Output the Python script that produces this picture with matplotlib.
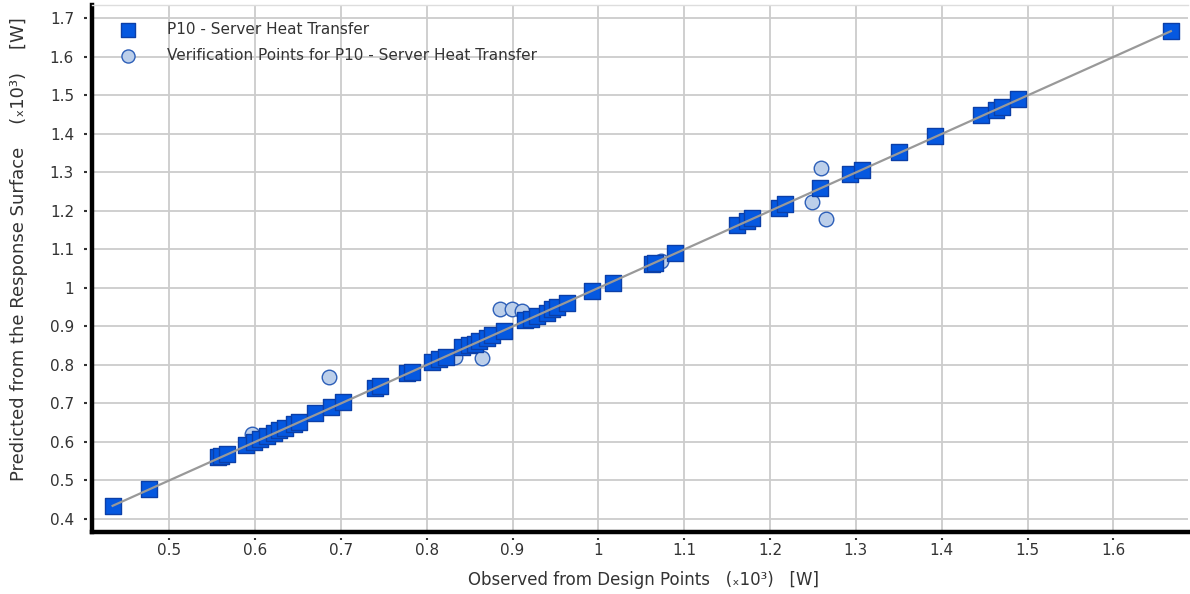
import numpy as np
import matplotlib
matplotlib.use("Agg")
import matplotlib.pyplot as plt
from matplotlib.path import Path
from matplotlib.ticker import FuncFormatter

# Design points (observed, predicted), x10^3 W
design_obs = [0.434, 0.476, 0.557, 0.560, 0.567, 0.590, 0.599, 0.606, 0.614, 0.622,
              0.628, 0.635, 0.645, 0.651, 0.670, 0.689, 0.703, 0.740, 0.745, 0.777,
              0.783, 0.806, 0.814, 0.822, 0.841, 0.849, 0.856, 0.861, 0.870, 0.876,
              0.890, 0.915, 0.921, 0.929, 0.940, 0.946, 0.952, 0.963, 0.993, 1.017,
              1.062, 1.066, 1.089, 1.162, 1.173, 1.179, 1.211, 1.218, 1.258, 1.293,
              1.307, 1.350, 1.392, 1.446, 1.463, 1.470, 1.489, 1.667]
design_pred = [0.434, 0.479, 0.561, 0.563, 0.569, 0.593, 0.600, 0.607, 0.615, 0.622,
               0.630, 0.637, 0.646, 0.652, 0.674, 0.691, 0.704, 0.741, 0.744, 0.778,
               0.782, 0.808, 0.816, 0.820, 0.846, 0.851, 0.855, 0.862, 0.870, 0.877,
               0.887, 0.918, 0.920, 0.927, 0.936, 0.945, 0.950, 0.960, 0.993, 1.014,
               1.062, 1.065, 1.092, 1.164, 1.175, 1.181, 1.207, 1.217, 1.259, 1.295,
               1.306, 1.352, 1.394, 1.448, 1.462, 1.471, 1.490, 1.668]

# Verification points
verif_obs = [0.597, 0.686, 0.833, 0.864, 0.885, 0.899, 0.911, 1.073, 1.249, 1.259, 1.265]
verif_pred = [0.620, 0.768, 0.820, 0.817, 0.944, 0.944, 0.940, 1.071, 1.222, 1.312, 1.178]

xticks = [0.5, 0.6, 0.7, 0.8, 0.9, 1.0, 1.1, 1.2, 1.3, 1.4, 1.5, 1.6]
yticks = [0.4, 0.5, 0.6, 0.7, 0.8, 0.9, 1.0, 1.1, 1.2, 1.3, 1.4, 1.5, 1.6, 1.7]

fig = plt.figure(figsize=(11.9, 5.94), dpi=100)
ax = fig.add_axes([92/1190, 1 - 532/594, (1188 - 92)/1190, (532 - 5)/594])

ax.set_xlim(0.410, 1.687)
ax.set_ylim(0.366, 1.735)
ax.set_xticks(xticks)
ax.set_yticks(yticks)
fmt = FuncFormatter(lambda v, p: f"{v:g}")
ax.xaxis.set_major_formatter(fmt)
ax.yaxis.set_major_formatter(fmt)

ax.grid(True, color="#cccccc", linewidth=1.3)
ax.set_axisbelow(True)

# verification points sit under the design points
ax.scatter(verif_obs, verif_pred, s=110, marker="o", facecolor="#bccfea",
           edgecolor="#2d5fb8", linewidth=1.0, zorder=2,
           label="Verification Points for P10 - Server Heat Transfer")
ax.scatter(design_obs, design_pred, s=140, marker="s", facecolor="#0558e0",
           edgecolor="#0b3fa8", linewidth=1.0, zorder=3,
           label="P10 - Server Heat Transfer")
# 45 deg line
lo, hi = min(design_obs), max(design_obs)
ax.plot([lo, hi], [lo, hi], color="#999999", linewidth=1.6, zorder=4)

# frame
ax.spines["top"].set_color("#dddddd")
ax.spines["top"].set_linewidth(1.0)
ax.spines["right"].set_visible(False)
for s in ["left", "bottom"]:
    ax.spines[s].set_color("black")
    ax.spines[s].set_linewidth(3.2)

ax.tick_params(axis="both", labelsize=11, labelcolor="#333333", color="#333333",
               direction="out", length=0)
ax.tick_params(axis="y", pad=13)
ax.tick_params(axis="x", pad=8)
# small detached tick dots
ypath = Path([(-1.0, 0.0), (-0.72, 0.0)])
xpath = Path([(0.0, -1.0), (0.0, -0.72)])
for t in ax.yaxis.get_major_ticks():
    t.tick1line.set_marker(ypath)
    t.tick1line.set_markersize(11)
    t.tick1line.set_markeredgewidth(1.5)
for t in ax.xaxis.get_major_ticks():
    t.tick1line.set_marker(xpath)
    t.tick1line.set_markersize(11)
    t.tick1line.set_markeredgewidth(1.5)

ax.set_xlabel("Observed from Design Points   (ₓ10³)   [W]", fontsize=12,
              color="#333333")
ax.xaxis.set_label_coords(0.503, -0.074)
ax.set_ylabel("Predicted from the Response Surface    (ₓ10³)    [W]",
              fontsize=13, color="#333333")
ax.yaxis.set_label_coords(-0.058, 0.537)

handles, labels = ax.get_legend_handles_labels()
leg = ax.legend(handles[::-1], labels[::-1], loc="upper left", frameon=False,
                fontsize=11, handlelength=2.5, handletextpad=1.3,
                borderaxespad=0.7, labelspacing=0.75, scatterpoints=1,
                markerscale=0.9, bbox_to_anchor=(0.0, 1.0))
for txt in leg.get_texts():
    txt.set_color("#333333")

fig.savefig("out.png", dpi=100)
